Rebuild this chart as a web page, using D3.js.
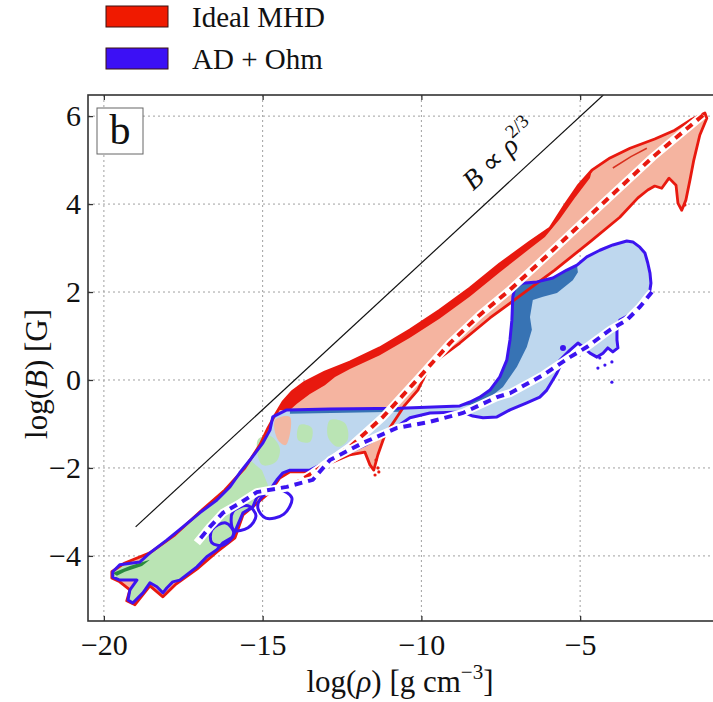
<!DOCTYPE html>
<html>
<head>
<meta charset="utf-8">
<script src="https://cdn.jsdelivr.net/npm/d3@7"></script>
<style>
  body { margin: 0; background: #fff; }
  svg { display: block; font-family: "Liberation Serif", "Times New Roman", serif; }
</style>
</head>
<body>
<div id="chart"></div>
<script>
// axes: x = log(rho) [g cm^-3], y = log(B) [G]
const xTicks = [-20, -15, -10, -5];
const yTicks = [-4, -2, 0, 2, 4, 6];
const legendLabels = ["Ideal MHD", "AD + Ohm"];

// Ideal MHD contour (outer level)
const idealMhdOutline = [
  [-19.75,-4.36],[-19.34,-4.16],[-18.55,-3.93],[-17.76,-3.52],[-16.98,-3.00],[-16.19,-2.50],[-15.56,-2.00],
  [-15.09,-1.48],[-14.83,-1.09],[-14.61,-0.80],[-14.36,-0.50],[-14.08,-0.27],[-13.67,-0.05],[-13.04,0.18],
  [-12.25,0.41],[-11.31,0.73],[-10.36,1.14],[-9.42,1.59],[-8.47,2.09],[-7.53,2.64],[-6.58,3.14],[-5.95,3.45],
  [-5.48,3.98],[-5.07,4.41],[-4.63,4.77],[-4.06,5.05],[-3.43,5.27],[-2.65,5.48],[-2.02,5.68],[-1.48,5.93],
  [-1.07,6.07],[-1.01,5.95],[-1.23,5.57],[-1.42,5.00],[-1.54,4.55],[-1.67,4.09],[-1.80,3.86],[-1.92,4.02],
  [-1.98,4.43],[-2.20,4.59],[-2.43,4.36],[-2.65,4.41],[-2.87,4.32],[-3.18,4.14],[-3.75,3.70],[-4.69,3.14],
  [-5.80,2.50],[-6.90,1.91],[-7.84,1.41],[-8.79,0.84],[-9.42,0.50],[-9.80,0.23],[-10.11,-0.23],[-10.52,-0.57],
  [-10.83,-0.91],[-11.15,-1.25],[-11.37,-1.70],[-11.50,-2.05],[-11.62,-1.93],[-11.78,-1.64],[-12.25,-1.70],
  [-12.88,-1.89],[-13.51,-2.09],[-14.14,-2.09],[-14.46,-2.23],[-14.77,-2.55],[-15.24,-2.84],[-15.62,-3.07],
  [-15.87,-3.59],[-16.44,-3.91],[-17.07,-4.30],[-17.76,-4.66],[-18.14,-4.93],[-18.55,-4.68],[-19.02,-5.11],
  [-19.28,-5.02],[-19.18,-4.77],[-19.50,-4.59],[-19.75,-4.50]
];
// Ideal MHD inner (densest) level along the upper edge
const idealMhdCore = [
  [-14.52,-0.68],[-14.36,-0.50],[-14.08,-0.27],[-13.67,-0.05],[-13.04,0.18],[-12.25,0.41],[-11.31,0.73],
  [-10.36,1.14],[-9.42,1.59],[-8.47,2.09],[-7.53,2.64],[-6.58,3.14],[-5.95,3.45],[-5.48,3.98],[-5.07,4.41],
  [-4.63,4.77],[-4.69,4.59],[-5.17,4.14],[-5.64,3.66],[-6.11,3.25],[-6.65,2.95],[-7.53,2.45],[-8.47,1.90],
  [-9.42,1.40],[-10.36,0.96],[-11.31,0.56],[-12.25,0.25],[-12.72,0.07],[-13.04,-0.12],[-13.51,-0.32],
  [-13.92,-0.54],[-14.14,-0.68]
];
const idealMhdStreak = [[-3.97,4.82],[-3.40,5.08],[-2.90,5.27]];
// Ideal MHD mean track (dashed)
const idealMhdTrack = [
  [-1.13,6.02],[-2.71,5.07],[-4.28,4.02],[-5.86,2.95],[-7.21,2.05],[-8.16,1.48],[-9.10,0.84],[-10.14,0.00],
  [-11.21,-0.84],[-12.25,-1.52],[-13.42,-2.11],[-14.14,-2.43],[-14.93,-2.55]
];
const idealMhdDots = [[-11.43,-1.82],[-11.37,-2.00],[-11.46,-2.16],[-11.34,-2.09],[-1.70,3.98]];

// AD + Ohm contour (outer level)
const adOhmOutline = [
  [-19.72,-4.36],[-19.50,-4.20],[-18.87,-4.14],[-18.55,-3.93],[-18.02,-3.64],[-17.51,-3.34],[-16.98,-3.02],
  [-16.44,-2.73],[-16.03,-2.43],[-15.72,-2.11],[-15.40,-1.82],[-14.99,-1.43],[-14.77,-1.14],[-14.68,-0.84],
  [-14.24,-0.68],[-12.88,-0.66],[-10.68,-0.64],[-8.79,-0.59],[-8.47,-0.50],[-8.16,-0.39],[-7.84,-0.23],
  [-7.53,0.07],[-7.31,0.45],[-7.21,0.91],[-7.15,1.36],[-7.12,1.89],[-7.06,2.09],[-6.83,2.20],[-6.36,2.23],
  [-5.86,2.32],[-5.42,2.50],[-5.10,2.61],[-4.79,2.80],[-4.38,2.95],[-3.97,3.07],[-3.53,3.16],[-3.34,3.14],
  [-3.12,3.02],[-2.96,2.89],[-2.87,2.66],[-2.80,2.43],[-2.77,2.20],[-2.80,2.05],[-2.90,1.89],[-3.06,1.66],
  [-3.34,1.52],[-3.75,1.36],[-3.84,1.14],[-3.84,0.91],[-3.81,0.73],[-3.97,0.64],[-4.13,0.73],[-4.28,0.61],
  [-4.47,0.52],[-4.69,0.61],[-4.91,0.75],[-5.07,0.84],[-5.32,0.68],[-5.64,0.45],[-5.64,0.30],[-5.73,0.16],
  [-5.86,0.00],[-6.05,-0.23],[-6.27,-0.39],[-6.68,-0.52],[-7.21,-0.68],[-7.62,-0.84],[-8.06,-0.86],
  [-8.38,-0.82],[-8.69,-0.73],[-9.73,-0.75],[-10.36,-0.86],[-10.68,-1.02],[-10.99,-1.18],[-11.31,-1.30],
  [-11.78,-1.48],[-12.25,-1.64],[-12.88,-1.82],[-13.51,-2.05],[-14.14,-2.05],[-14.36,-2.11],[-14.55,-2.27],
  [-14.77,-2.50],[-15.18,-2.66],[-15.31,-2.89],[-15.62,-3.02],[-15.81,-3.34],[-15.94,-3.57],[-16.25,-3.70],
  [-16.44,-3.86],[-16.76,-4.02],[-17.07,-4.25],[-17.61,-4.55],[-17.83,-4.59],[-18.02,-4.73],[-18.14,-4.84],
  [-18.33,-4.70],[-18.55,-4.61],[-18.77,-4.84],[-19.09,-5.07],[-19.24,-5.00],[-19.18,-4.77],[-18.96,-4.55],
  [-19.50,-4.55],[-19.72,-4.48]
];
// AD + Ohm inner level
const adOhmCore = [
  [-7.06,2.09],[-6.83,2.20],[-6.36,2.23],[-5.86,2.32],[-5.42,2.50],[-5.10,2.61],[-5.07,2.45],[-5.23,2.27],
  [-5.73,1.98],[-6.17,1.89],[-6.49,1.82],[-6.58,1.43],[-6.52,1.14],[-6.68,0.75],[-6.99,0.30],[-7.43,-0.16],
  [-7.94,-0.45],[-8.47,-0.57],[-8.79,-0.59],[-8.47,-0.50],[-8.16,-0.39],[-7.84,-0.23],[-7.53,0.07],
  [-7.31,0.45],[-7.21,0.91],[-7.15,1.36],[-7.12,1.89]
];
const adOhmStrip = [[-14.14,-0.68],[-10.68,-0.64],[-10.68,-0.72],[-14.14,-0.77]];
const adOhmTrack = [
  [-2.74,2.00],[-3.12,1.66],[-3.53,1.36],[-4.06,1.14],[-4.79,0.75],[-5.32,0.52],[-6.17,0.11],[-7.21,-0.30],
  [-7.62,-0.39],[-8.69,-0.75],[-9.73,-0.95],[-10.77,-1.09],[-11.84,-1.43],[-12.88,-1.82],[-13.42,-2.27],
  [-14.24,-2.43],[-15.18,-2.55],[-15.72,-2.80],[-16.25,-3.02],[-16.66,-3.34],[-17.07,-3.70]
];
const adOhmDots = [[-5.54,0.73],[-4.38,0.50],[-4.22,0.34],[-4.00,0.41],[-4.44,0.27],[-4.00,-0.05]];
const adOhmLoops = [
  [[-15.02,-2.66],[-14.46,-2.50],[-14.08,-2.68],[-14.33,-3.05],[-14.90,-3.14],[-15.15,-2.91]],
  [[-15.94,-3.00],[-15.46,-2.86],[-15.21,-3.09],[-15.46,-3.36],[-15.91,-3.41]],
  [[-16.60,-3.41],[-16.16,-3.25],[-15.91,-3.48],[-16.22,-3.75],[-16.60,-3.70]]
];

// overlap of both runs in the low-density tail
const overlapTail = [
  [-19.72,-4.36],[-19.50,-4.20],[-18.87,-4.14],[-18.55,-3.93],[-18.02,-3.64],[-17.51,-3.34],[-16.98,-3.02],
  [-16.44,-2.73],[-16.03,-2.43],[-15.72,-2.11],[-15.40,-1.82],[-15.02,-2.05],[-14.77,-2.50],[-15.18,-2.66],
  [-15.31,-2.89],[-15.62,-3.02],[-15.81,-3.34],[-15.94,-3.57],[-16.25,-3.70],[-16.44,-3.86],[-16.76,-4.02],
  [-17.07,-4.25],[-17.61,-4.55],[-17.83,-4.59],[-18.02,-4.73],[-18.14,-4.84],[-18.33,-4.70],[-18.55,-4.61],
  [-18.77,-4.84],[-19.09,-5.07],[-19.24,-5.00],[-19.18,-4.77],[-18.96,-4.55],[-19.50,-4.55],[-19.72,-4.48]
];
const overlapPatches = [
  [[-15.15,-1.36],[-14.77,-1.27],[-14.46,-1.55],[-14.58,-1.86],[-15.02,-1.93]],
  [[-12.88,-0.91],[-12.41,-0.98],[-12.32,-1.36],[-12.63,-1.52],[-12.94,-1.30]],
  [[-13.83,-1.02],[-13.45,-1.09],[-13.51,-1.41],[-13.89,-1.36]]
];
const idealPatch = [[-14.61,-0.91],[-14.14,-0.84],[-14.27,-1.48],[-14.52,-1.36]];
const tailCore = [[-19.72,-4.39],[-19.18,-4.23],[-18.55,-4.09],[-18.80,-4.23],[-19.34,-4.36],[-19.59,-4.45]];

// B ∝ rho^(2/3) reference
const refLine = [[-19.0,-3.34],[-4.27,6.48]];

const SIZE = {width: 713, height: 702};
const FRAME = {left: 88, top: 95, right: 750, bottom: 621};
const RED = "#e8190f", BLUE = "#3c14f0";
const SERIF = "Liberation Serif, Times New Roman, serif";

const x = d3.scaleLinear().domain([-20.5, 0.35]).range([FRAME.left, FRAME.right]);
const y = d3.scaleLinear().domain([-5.48, 6.48]).range([FRAME.bottom, FRAME.top]);

const svg = d3.select("#chart").append("svg")
    .attr("width", SIZE.width)
    .attr("height", SIZE.height)
    .style("background", "#fff");

svg.append("clipPath").attr("id", "plotclip").append("rect")
    .attr("x", FRAME.left).attr("y", FRAME.top)
    .attr("width", FRAME.right - FRAME.left).attr("height", FRAME.bottom - FRAME.top);

// dotted grid
const grid = svg.append("g").attr("stroke", "#a0a0a0").attr("stroke-dasharray", "2,3").attr("stroke-width", 1);
grid.selectAll("line.v").data(xTicks).join("line").attr("class", "v")
    .attr("x1", d => x(d)).attr("x2", d => x(d)).attr("y1", FRAME.top).attr("y2", FRAME.bottom);
grid.selectAll("line.h").data(yTicks).join("line").attr("class", "h")
    .attr("x1", FRAME.left).attr("x2", FRAME.right).attr("y1", d => y(d)).attr("y2", d => y(d));

const closed = d3.line().x(d => x(d[0])).y(d => y(d[1])).curve(d3.curveLinearClosed);
const smooth = d3.line().x(d => x(d[0])).y(d => y(d[1])).curve(d3.curveCatmullRomClosed);
const open = d3.line().x(d => x(d[0])).y(d => y(d[1]));

const plot = svg.append("g").attr("clip-path", "url(#plotclip)");

// fills
plot.append("path").attr("d", closed(idealMhdOutline)).attr("fill", "#f5b4a0");
plot.append("path").attr("d", closed(idealMhdCore)).attr("fill", RED);
plot.append("path").attr("d", open(idealMhdStreak)).attr("fill", "none").attr("stroke", "#d8301e").attr("stroke-width", 1.5);
plot.append("path").attr("d", closed(adOhmOutline)).attr("fill", "#bed7ee");
plot.append("path").attr("d", closed(overlapTail)).attr("fill", "#bae4b4");
plot.selectAll("path.patch").data(overlapPatches).join("path").attr("class", "patch")
    .attr("d", d => smooth(d)).attr("fill", "#bae4b4");
plot.append("path").attr("d", smooth(idealPatch)).attr("fill", "#f2b7a2");
plot.append("path").attr("d", closed(tailCore)).attr("fill", "#2a8a3e");
plot.append("path").attr("d", closed(adOhmCore)).attr("fill", "#3773b4");
plot.append("path").attr("d", closed(adOhmStrip)).attr("fill", "#3773b4");

// contour lines
plot.append("path").attr("d", closed(idealMhdOutline)).attr("fill", "none")
    .attr("stroke", RED).attr("stroke-width", 2.8).attr("stroke-linejoin", "round");
plot.append("path").attr("d", closed(adOhmOutline)).attr("fill", "none")
    .attr("stroke", BLUE).attr("stroke-width", 3).attr("stroke-linejoin", "round");
plot.selectAll("path.loop").data(adOhmLoops).join("path").attr("class", "loop")
    .attr("d", d => smooth(d)).attr("fill", "none").attr("stroke", BLUE).attr("stroke-width", 3);

// mean tracks, dashed over a white band
function track(points, colour) {
  plot.append("path").attr("d", open(points)).attr("fill", "none")
      .attr("stroke", "#fff").attr("stroke-width", 8).attr("stroke-linejoin", "round");
  plot.append("path").attr("d", open(points)).attr("fill", "none")
      .attr("stroke", colour).attr("stroke-width", 4).attr("stroke-dasharray", "8,6");
}
track(idealMhdTrack, RED);
track(adOhmTrack, BLUE);

plot.selectAll("circle.rd").data(idealMhdDots).join("circle").attr("class", "rd")
    .attr("cx", d => x(d[0])).attr("cy", d => y(d[1])).attr("r", 1.6).attr("fill", RED);
plot.selectAll("circle.bd").data(adOhmDots).join("circle").attr("class", "bd")
    .attr("cx", d => x(d[0])).attr("cy", d => y(d[1])).attr("r", (d, i) => i === 0 ? 3 : 1.6).attr("fill", BLUE);

// reference slope line
plot.append("path").attr("d", open(refLine)).attr("stroke", "#111").attr("stroke-width", 1.2).attr("fill", "none");
const angle = Math.atan2(y(refLine[0][1]) - y(refLine[1][1]), x(refLine[1][0]) - x(refLine[0][0])) * 180 / Math.PI;
const ann = svg.append("text")
    .attr("transform", `translate(${x(-7.35)},${y(4.97)}) rotate(${-angle})`)
    .attr("text-anchor", "middle").attr("font-size", 28).attr("fill", "#111");
ann.append("tspan").attr("font-style", "italic").text("B");
ann.append("tspan").text(" ∝ ");
ann.append("tspan").attr("font-style", "italic").text("ρ");
ann.append("tspan").attr("font-size", 19).attr("dy", -12).text("2/3");

// frame and axes
svg.append("rect").attr("x", FRAME.left).attr("y", FRAME.top)
    .attr("width", FRAME.right - FRAME.left).attr("height", FRAME.bottom - FRAME.top)
    .attr("fill", "none").attr("stroke", "#333").attr("stroke-width", 1.6);

const fmt = d3.format("d");
const xAxis = svg.append("g").attr("transform", `translate(0,${FRAME.bottom})`)
    .call(d3.axisBottom(x).tickValues(xTicks).tickSize(-5).tickPadding(13).tickFormat(fmt));
const yAxis = svg.append("g").attr("transform", `translate(${FRAME.left},0)`)
    .call(d3.axisLeft(y).tickValues(yTicks).tickSize(-5).tickPadding(7).tickFormat(fmt));
const topAxis = svg.append("g").attr("transform", `translate(0,${FRAME.top})`)
    .call(d3.axisTop(x).tickValues(xTicks).tickSize(-5).tickFormat(""));
[xAxis, yAxis, topAxis].forEach(g => {
  g.attr("font-family", SERIF);
  g.select(".domain").remove();
  g.selectAll("line").attr("stroke", "#333").attr("stroke-width", 1.3);
  g.selectAll("text").attr("font-family", SERIF).attr("font-size", 30).attr("fill", "#111");
});

const xLabel = svg.append("text").attr("x", 400).attr("y", 692)
    .attr("text-anchor", "middle").attr("font-size", 31).attr("fill", "#111");
xLabel.append("tspan").text("log(");
xLabel.append("tspan").attr("font-style", "italic").text("ρ");
xLabel.append("tspan").text(") [g cm");
xLabel.append("tspan").attr("font-size", 21).attr("dy", -13).text("−3");
xLabel.append("tspan").attr("dy", 13).text("]");

const yLabel = svg.append("text").attr("transform", `translate(47,${y(0) - 6}) rotate(-90)`)
    .attr("text-anchor", "middle").attr("font-size", 31).attr("fill", "#111");
yLabel.append("tspan").text("log(");
yLabel.append("tspan").attr("font-style", "italic").text("B");
yLabel.append("tspan").text(") [G]");

// panel tag
svg.append("rect").attr("x", 97).attr("y", 108).attr("width", 46).attr("height", 46)
    .attr("fill", "#fff").attr("stroke", "#666").attr("stroke-width", 1);
svg.append("text").attr("x", 120).attr("y", 144).attr("text-anchor", "middle")
    .attr("font-size", 42).attr("fill", "#111").text("b");

// legend
const legendColours = ["#f01a00", "#3c10f5"];
const legend = svg.append("g");
legend.selectAll("rect").data(legendLabels).join("rect")
    .attr("x", 106).attr("y", (d, i) => 6 + i * 42).attr("width", 62).attr("height", 21)
    .attr("fill", (d, i) => legendColours[i]).attr("stroke", "#3a1010").attr("stroke-width", 1);
legend.selectAll("text").data(legendLabels).join("text")
    .attr("x", 192).attr("y", (d, i) => 27 + i * 42)
    .attr("font-size", 29).attr("fill", "#111").text(d => d);
</script>
</body>
</html>
